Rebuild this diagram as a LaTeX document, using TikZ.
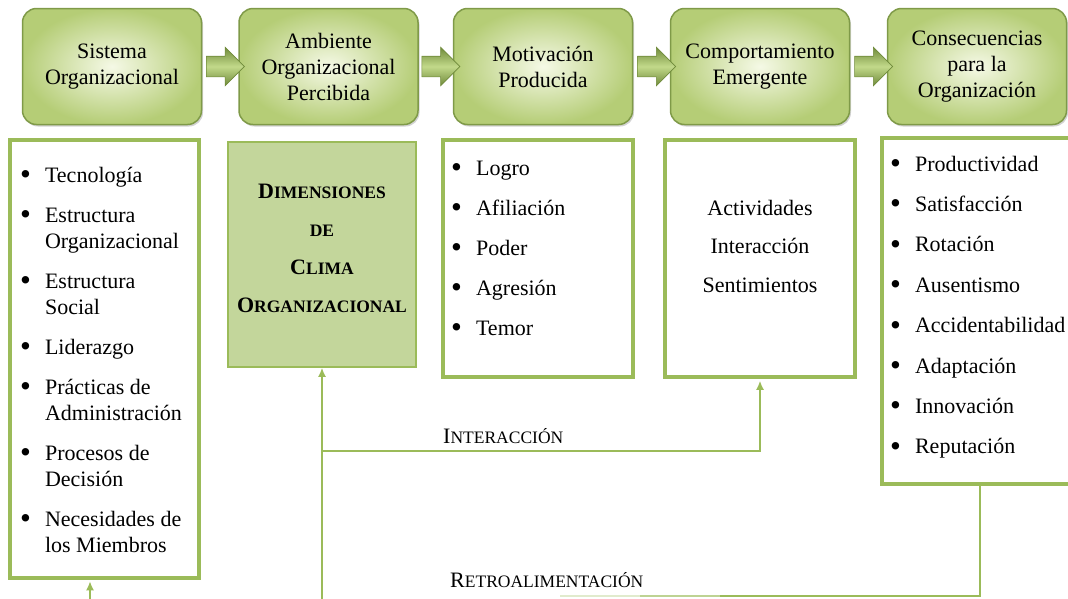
\documentclass[tikz,border=0pt]{standalone}
\usepackage{fontspec}
\setmainfont{Liberation Serif}
\usetikzlibrary{shapes.arrows,shadows,calc,arrows.meta}
\definecolor{gline}{HTML}{9BBB59}
\definecolor{gfill}{HTML}{C3D69B}
\definecolor{gdark}{HTML}{6F8A3A}
\definecolor{gedge}{HTML}{7F9A48}
\definecolor{gpale}{HTML}{F5F9E6}
\definecolor{gmid}{HTML}{B5CD76}
\definecolor{glight}{HTML}{C2D98A}
\newcommand\myfsc[2]{{\fontsize{22}{26}\selectfont #1}{\fontsize{17.5}{26}\selectfont #2}}
\newcommand\itm{\raisebox{-2.5pt}{\fontsize{31}{26}\selectfont\textbullet}\hspace{14pt}}
\tikzset{
  topbox/.style={rounded corners=14pt, minimum width=179pt, minimum height=116pt,
    draw=gedge, line width=1.5pt, inner color=gpale, outer color=gmid,
    drop shadow={opacity=0.35, shadow xshift=1.5pt, shadow yshift=-2pt},
    align=center, font=\fontsize{22}{26}\selectfont, inner sep=0pt},
  blockarrow/.style={single arrow, minimum height=38pt, minimum width=38pt,
    single arrow head extend=9pt, inner sep=0pt, draw=gdark, line width=0.6pt,
    top color=gdark, bottom color=gdark, middle color=glight},
  listbox/.style={draw=gline, line width=3.5pt, fill=white, inner sep=0pt},
  dimbox/.style={draw=gline, line width=1.5pt, fill=gfill, inner sep=0pt},
  listtext/.style={inner sep=0pt, font=\fontsize{22}{26}\selectfont},
  conn/.style={draw=gline, line width=2pt},
  tip/.style={-{Latex[length=9pt,width=8pt]}},
  lbl/.style={inner sep=0pt},
}
\begin{document}
\begin{tikzpicture}[x=1pt,y=-1pt]
\useasboundingbox (0,0) rectangle (1068,598);
\clip (0,0) rectangle (1068,598);

% top flow boxes
\node[topbox] (t1) at (112,66.5) {Sistema\\Organizacional};
\node[topbox] (t2) at (328.5,66.5) {Ambiente\\Organizacional\\Percibida};
\node[topbox] (t3) at (543,66.5) {Motivación\\Producida};
\node[topbox] (t4) at (760,66.5) {Comportamiento\\Emergente};
\node[topbox] (t5) at (977,66.5) {Consecuencias\\para la\\Organización};

\node[blockarrow] (a1) at ($(t1.east)!0.5!(t2.west)$) {\vrule width 0pt height 10pt depth 10pt};
\node[blockarrow] (a2) at ($(t2.east)!0.5!(t3.west)$) {\vrule width 0pt height 10pt depth 10pt};
\node[blockarrow] (a3) at ($(t3.east)!0.5!(t4.west)$) {\vrule width 0pt height 10pt depth 10pt};
\node[blockarrow] (a4) at ($(t4.east)!0.5!(t5.west)$) {\vrule width 0pt height 10pt depth 10pt};

% lower boxes
\node[listbox, minimum width=189pt, minimum height=438pt] (b1) at (104.5,359) {};
\node[dimbox, minimum width=188pt, minimum height=225pt] (b2) at (322,254.5) {};
\node[listbox, minimum width=190pt, minimum height=237pt] (b3) at (538,258.5) {};
\node[listbox, minimum width=190pt, minimum height=237pt] (b4) at (760,258.5) {};
\node[listbox, minimum width=196pt, minimum height=346pt] (b5) at (980,311) {};

% texts of lower boxes
\node[listtext, anchor=base west] (x1) at (20,182) {%
\begin{tabular}[t]{@{}l@{}}
\itm Tecnología\\[14pt]
\itm Estructura\\
\phantom{\itm}Organizacional\\[14pt]
\itm Estructura\\
\phantom{\itm}Social\\[14pt]
\itm Liderazgo\\[14pt]
\itm Prácticas de\\
\phantom{\itm}Administración\\[14pt]
\itm Procesos de\\
\phantom{\itm}Decisión\\[14pt]
\itm Necesidades de\\
\phantom{\itm}los Miembros
\end{tabular}};

\node[listtext, anchor=base, font=\fontsize{22}{26}\selectfont\bfseries] (x2) at (322,198) {%
\begin{tabular}[t]{@{}c@{}}
\myfsc{D}{IMENSIONES}\\[12pt]
\myfsc{}{DE}\\[12pt]
\myfsc{C}{LIMA}\\[12pt]
\myfsc{O}{RGANIZACIONAL}
\end{tabular}};

\node[listtext, anchor=base west] (x3) at (451,175) {%
\begin{tabular}[t]{@{}l@{}}
\itm Logro\\[14pt]
\itm Afiliación\\[14pt]
\itm Poder\\[14pt]
\itm Agresión\\[14pt]
\itm Temor
\end{tabular}};

\node[listtext, anchor=base] (x4) at (760,215) {%
\begin{tabular}[t]{@{}c@{}}
Actividades\\[12.5pt]
Interacción\\[12.5pt]
Sentimientos
\end{tabular}};

\node[listtext, anchor=base west] (x5) at (890,171) {%
\begin{tabular}[t]{@{}l@{}}
\itm Productividad\\[14.4pt]
\itm Satisfacción\\[14.4pt]
\itm Rotación\\[14.4pt]
\itm Ausentismo\\[14.4pt]
\itm Accidentabilidad\\[14.4pt]
\itm Adaptación\\[14.4pt]
\itm Innovación\\[14.4pt]
\itm Reputación
\end{tabular}};

% connectors
\coordinate (s1) at (90,610);
\coordinate (s2) at (322,610);
\coordinate (j) at (322,451);
\coordinate (r) at (720,595.5);
\coordinate (r2) at (640,595.5);
\coordinate (r3) at (560,595.5);
\draw[conn, tip, shorten >=1.5pt] (s1) -- (b1.south -| s1);
\draw[conn, tip] (s2) -- (b2.south);
\draw[conn, tip, shorten >=2pt] (j) -| (b4.south);
\draw[conn] (b5.south) |- (r);
\draw[draw=gline!65, line width=2pt] (r) -- (r2);
\draw[draw=gline!30, line width=2pt] (r2) -- (r3);

\node[lbl, anchor=base west] (li) at (443,443) {\myfsc{I}{NTERACCIÓN}};
\node[lbl, anchor=base west] (lr) at (450,587) {\myfsc{R}{ETROALIMENTACIÓN}};
\end{tikzpicture}
\end{document}
